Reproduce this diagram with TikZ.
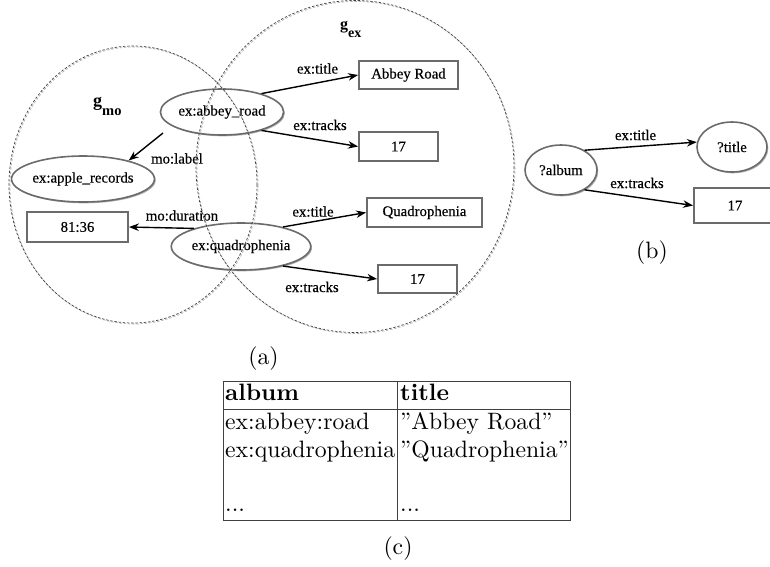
\documentclass[tikz,border=0pt]{standalone}
\usepackage{fontspec}
\setmainfont{lmroman10}[Extension=.otf, UprightFont=*-regular, BoldFont=*-bold, ItalicFont=*-italic, BoldItalicFont=*-bolditalic]
\newfontfamily\tnr{Liberation Serif}[UprightFeatures={FakeBold=0.35}]
\usetikzlibrary{shapes.geometric,arrows.meta,shadows}
\begin{document}
\begin{tikzpicture}[x=1pt,y=-1pt,
  tfont/.style={font=\tnr\fontsize{14.8}{16}\selectfont},
  lbl/.style={tfont, inner sep=0pt},
  shad/.style={drop shadow={shadow xshift=1.3pt,shadow yshift=-1.3pt,fill=black!30,opacity=1}},
  res/.style={ellipse, draw=black!58, line width=1.6pt, fill=white, inner sep=0pt, tfont, shad},
  lit/.style={rectangle, draw=black!58, line width=1.8pt, fill=white, inner sep=0pt, tfont, shad},
  rel/.style={-{Stealth[length=10pt,width=7.5pt]}, line width=1.4pt, black},
  gdark/.style={draw=black!75, line width=0.7pt, dash pattern=on 2.4pt off 1.8pt},
  glight/.style={draw=black!30, line width=0.7pt, dash pattern=on 2.4pt off 1.8pt},
  captxt/.style={font=\fontsize{23.7}{28}\selectfont, inner sep=0pt},
  tabline/.style={draw=black!75, line width=0.9pt},
]
\useasboundingbox (0,0) rectangle (770,566);

% ---------- (a) nodes ----------
\node[res, minimum width=122, minimum height=46] (ar) at (222,112) {ex:abbey\_road};
\node[res, minimum width=124, minimum height=46] (apple) at (83,179) {ex:apple\_records};
\node[res, minimum width=126, minimum height=47] (qd) at (241,246.5) {ex:quadrophenia};
\node[lit, minimum width=101, minimum height=30] (dur) at (77.5,227) {81:36};
\node[lit, minimum width=99, minimum height=28] (abr) at (408.5,75) {Abbey Road};
\node[lit, minimum width=79, minimum height=29] (tra) at (398.5,146.5) {17};
\node[lit, minimum width=115, minimum height=29] (qt) at (424.5,212.5) {Quadrophenia};
\node[lit, minimum width=79, minimum height=28] (trb) at (417.5,279) {17};

\coordinate (arsw) at (163,133);
\draw[rel] (ar.25) -- (abr.west);
\draw[rel] (ar.-25) -- (tra.west);
\draw[rel] (arsw) -- (apple.22);
\draw[rel] (qd.159) -- (dur.east);
\draw[rel] (qd.25) -- (qt.west);
\draw[rel] (qd.-25) -- (trb.west);

\node[lbl] (l1) at (317.5,68.5) {ex:title};
\node[lbl] (l2) at (320,125) {ex:tracks};
\node[lbl] (l3) at (177,158.5) {mo:label};
\node[lbl] (l4) at (182,215.5) {mo:duration};
\node[lbl] (l5) at (313,211.5) {ex:title};
\node[lbl] (l6) at (312,287) {ex:tracks};

% group names
\node[anchor=base west, inner sep=0pt, font=\tnr\bfseries\fontsize{18}{20}\selectfont] (gmo) at (93,106)
  {g\raisebox{-9pt}{\fontsize{14.5}{16}\selectfont mo}};
\node[anchor=base west, inner sep=0pt, font=\tnr\bfseries\fontsize{16}{18}\selectfont] (gex) at (340,29)
  {g\raisebox{-8pt}{\fontsize{14}{16}\selectfont ex}};

% named graphs (dashed)
\draw[glight] (134,185.5) ellipse [x radius=124, y radius=138.5];
\draw[gdark] (133,184.5) ellipse [x radius=124, y radius=138.5];
\draw[glight] (356,167.5) ellipse [x radius=159, y radius=166];
\draw[gdark] (355,166.5) ellipse [x radius=159, y radius=166];

% ---------- (b) ----------
\node[res, minimum width=72, minimum height=50] (al) at (561,170) {?album};
\node[res, minimum width=70, minimum height=50] (ti) at (732,147) {?title};
\node[lit, minimum width=82, minimum height=35] (trc) at (735,205.5) {17};
\draw[rel] (al.40) -- (ti.172);
\draw[rel] (al.-40) -- (trc.west);
\node[lbl] (l7) at (635.5,135) {ex:title};
\node[lbl] (l8) at (637,183) {ex:tracks};

% ---------- captions ----------
\node[captxt] (capa) at (263.5,359) {(a)};
\node[captxt] (capb) at (652,253) {(b)};
\node[captxt] (capc) at (398,549) {(c)};

% ---------- (c) table ----------
\draw[tabline] (223,381) rectangle (570,520);
\draw[tabline] (223,409) -- (570,409);
\draw[tabline] (397,381) -- (397,520);
\node[captxt, anchor=base west] (h1) at (225,400) {\bfseries album};
\node[captxt, anchor=base west] (h2) at (400,400) {\bfseries title};
\node[captxt, anchor=base west] (r1a) at (225,429) {ex:abbey:road};
\node[captxt, anchor=base west] (r1b) at (400,429) {''Abbey Road''};
\node[captxt, anchor=base west] (r2a) at (225,457) {ex:quadrophenia};
\node[captxt, anchor=base west] (r2b) at (400,457) {''Quadrophenia''};
\node[captxt, anchor=base west] (r4a) at (225,511) {...};
\node[captxt, anchor=base west] (r4b) at (400,511) {...};
\end{tikzpicture}
\end{document}
